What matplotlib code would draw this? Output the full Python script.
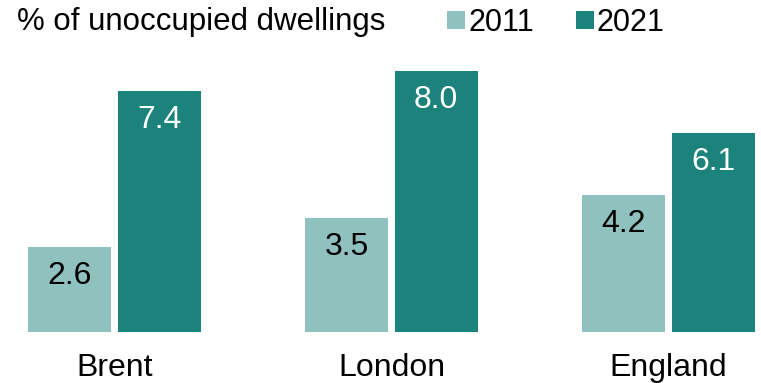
import matplotlib.pyplot as plt
import numpy as np

areas = ["Brent", "London", "England"]
years = ["2011", "2021"]
pct_2011 = [2.6, 3.5, 4.2]
pct_2021 = [7.4, 8.0, 6.1]

colours = ["#8fc1bf", "#1b827c"]
label_colours = ["black", "white"]

plt.rcParams['font.family'] = ['Liberation Sans', 'DejaVu Sans']

fig = plt.figure(figsize=(7.61, 3.83), dpi=100)
ax = fig.add_axes([0, 51 / 383, 1, 261 / 383])

x = np.arange(len(areas))
width = 0.30
offset = 0.161

for i, (vals, year) in enumerate(zip([pct_2011, pct_2021], years)):
    pos = x + (i * 2 - 1) * offset
    bars = ax.bar(pos, vals, width, color=colours[i], label=year)
    for xb, v in zip(pos, vals):
        ax.annotate(f"{v:.1f}", (xb, v), xytext=(0, -21), textcoords="offset points",
                    ha="center", va="center", fontsize=23, color=label_colours[i])

ax.set_xlim((0 - 114.5) / 277, (761 - 114.5) / 277)
ax.set_ylim(0, 8)
ax.set_xticks(x)
ax.set_xticklabels(areas, fontsize=23)
ax.tick_params(axis="x", length=0, pad=15)
ax.set_yticks([])
for s in ax.spines.values():
    s.set_visible(False)

fig.text(17 / 761, 1 - 22 / 383, "% of unoccupied dwellings", fontsize=22.5, va="center", ha="left")
fig.legend(loc="center left", bbox_to_anchor=(447 / 761, 1 - 23 / 383), ncol=2, frameon=False,
           fontsize=22, handlelength=0.59, handleheight=0.52, handletextpad=0.1,
           columnspacing=1.37, borderpad=0, borderaxespad=0)

fig.savefig("out.png", dpi=100)
